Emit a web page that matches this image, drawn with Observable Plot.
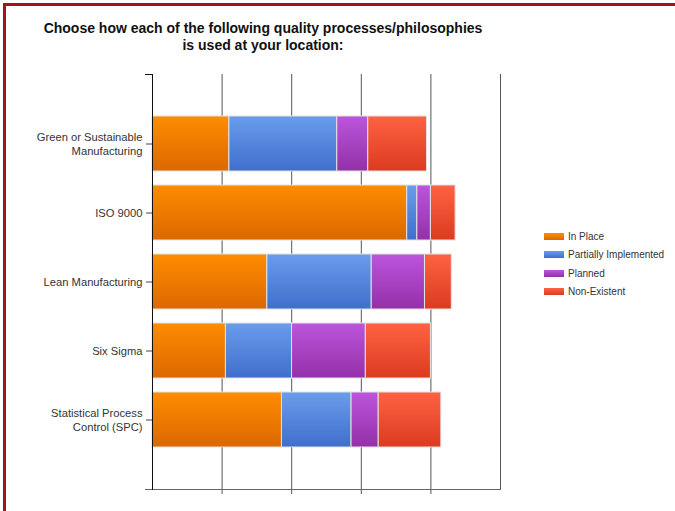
<!DOCTYPE html>
<html>
<head>
<meta charset="utf-8">
<script src="https://cdn.jsdelivr.net/npm/d3@7"></script>
<script src="https://cdn.jsdelivr.net/npm/@observablehq/plot@0.6"></script>
<style>
  html, body { margin: 0; padding: 0; background: #fff; }
  #page { position: relative; width: 675px; height: 511px; overflow: hidden; font-family: "Liberation Sans", Arial, sans-serif; }
  #frameTop { position: absolute; left: 3px; top: 3px; width: 672px; height: 3px; background: #a31414; }
  #frameLeft { position: absolute; left: 3px; top: 3px; width: 3px; height: 508px; background: #a31414; }
  #title { position: absolute; left: 0; top: 20px; width: 526px; text-align: center; font-weight: bold; font-size: 14px; line-height: 17px; color: #111; }
  #chart { position: absolute; left: 0; top: 0; }
  #legend { position: absolute; left: 544px; top: 227px; font-size: 10px; color: #333; }
  .item { display: flex; align-items: center; height: 18.5px; }
  .sw { width: 20px; height: 7px; margin-right: 4px; }
</style>
</head>
<body>
<div id="page">
  <div id="frameTop"></div>
  <div id="frameLeft"></div>
  <div id="title">Choose how each of the following quality processes/philosophies<br>is used at your location:</div>
  <div id="chart"></div>
  <div id="legend"></div>
</div>
<script>
const categories = ["Green or Sustainable Manufacturing", "ISO 9000", "Lean Manufacturing", "Six Sigma", "Statistical Process Control (SPC)"];
const tickLabels = ["Green or Sustainable\nManufacturing", "ISO 9000", "Lean Manufacturing", "Six Sigma", "Statistical Process\nControl (SPC)"];
const series = ["In Place", "Partially Implemented", "Planned", "Non-Existent"];
const inPlace     = [22.1, 73.2, 33.0, 21.1, 37.2];
const partially   = [31.0,  2.9, 30.0, 19.0, 20.0];
const planned     = [ 8.9,  3.9, 15.3, 21.2,  7.8];
const nonExistent = [16.9,  7.1,  7.7, 18.7, 18.0];
const xTicks = [0, 20, 40, 60, 80, 100];
const colorsTop    = ["#ff8c00", "#6a9cec", "#bb55dd", "#ff6243"];
const colorsBottom = ["#dc6800", "#3f6fcc", "#9430a8", "#db3b1f"];

const valuesBySeries = [inPlace, partially, planned, nonExistent];
const data = [];
categories.forEach((c, i) => {
  series.forEach((s, j) => data.push({category: c, series: s, value: valuesBySeries[j][i]}));
});
const labelOf = new Map(categories.map((c, i) => [c, tickLabels[i]]));

const chart = Plot.plot({
  width: 675,
  height: 511,
  marginTop: 74,
  marginBottom: 22,
  marginLeft: 152,
  marginRight: 175,
  style: {fontFamily: "'Liberation Sans', Arial, sans-serif", background: "transparent"},
  x: {domain: [0, 100], axis: null},
  y: {domain: categories, paddingInner: 0.2, paddingOuter: 0.6, axis: null, label: null},
  color: {domain: series, range: series.map((_, i) => `url(#grad${i})`)},
  marks: [
    Plot.ruleX(xTicks.filter(d => d > 0 && d < 100), {stroke: "#555", strokeWidth: 1, insetBottom: -5}),
    Plot.ruleX([100], {stroke: "#555", strokeWidth: 1}),
    Plot.barX(data, Plot.stackX({y: "category", x: "value", fill: "series", order: series, stroke: "#e2e2e2", strokeWidth: 1})),
    Plot.frame({anchor: "bottom", stroke: "#666", insetLeft: -7}),
    Plot.frame({anchor: "left", stroke: "#111"}),
    Plot.axisY({
      label: null,
      tickSize: 6,
      tickPadding: 4,
      fontSize: 11.2,
      lineHeight: 1.25,
      stroke: "#444",
      color: "#333",
      tickFormat: d => labelOf.get(d)
    })
  ]
});

const svg = d3.select(chart);
const defs = svg.insert("defs", ":first-child");
series.forEach((s, i) => {
  const g = defs.append("linearGradient").attr("id", `grad${i}`).attr("x1", 0).attr("y1", 0).attr("x2", 0).attr("y2", 1);
  g.append("stop").attr("offset", "0%").attr("stop-color", colorsTop[i]);
  g.append("stop").attr("offset", "100%").attr("stop-color", colorsBottom[i]);
});
// small outer tick at the top of the left axis
const yScale = chart.scale("y");
const xScale = chart.scale("x");
svg.append("line")
  .attr("x1", xScale.apply(0) - 7).attr("x2", xScale.apply(0))
  .attr("y1", yScale.range[0] + 0.5).attr("y2", yScale.range[0] + 0.5)
  .attr("stroke", "#111");
document.getElementById("chart").appendChild(chart);

const legend = document.getElementById("legend");
series.forEach((s, i) => {
  const item = document.createElement("div");
  item.className = "item";
  const sw = document.createElement("div");
  sw.className = "sw";
  sw.style.background = `linear-gradient(${colorsTop[i]}, ${colorsBottom[i]})`;
  const t = document.createElement("span");
  t.textContent = s;
  item.appendChild(sw);
  item.appendChild(t);
  legend.appendChild(item);
});
</script>
</body>
</html>
